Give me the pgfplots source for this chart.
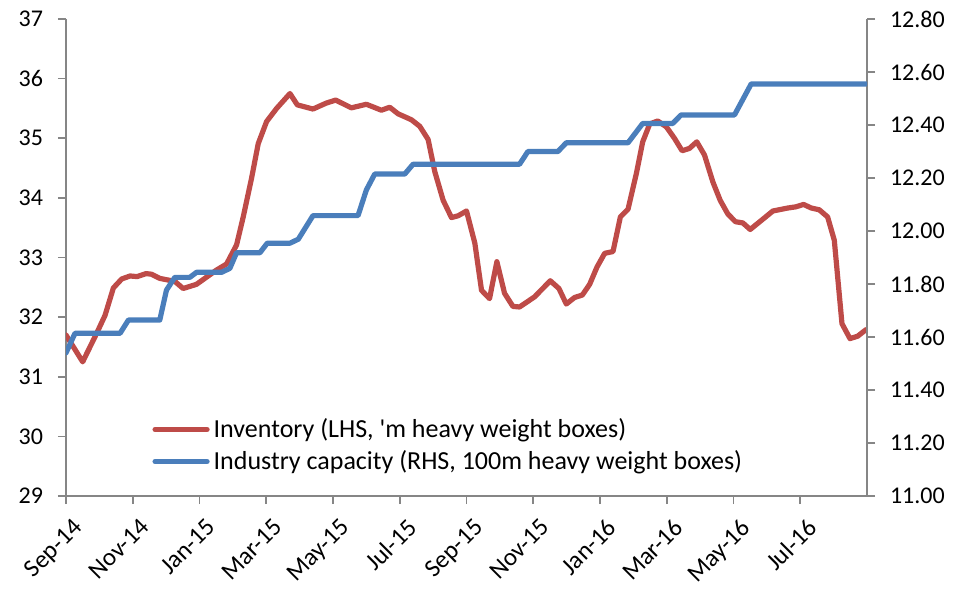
\documentclass[border=0pt]{standalone}
\usepackage{pgfplots}
\pgfplotsset{compat=1.18}
\usepackage{fontspec}
\setmainfont{Carlito}
\definecolor{invred}{HTML}{BE4B48}
\definecolor{capblue}{HTML}{4A7EBB}
\definecolor{axgray}{HTML}{868686}
\begin{document}
\begin{tikzpicture}
\path[use as bounding box] (-33bp,-48bp) rectangle (451bp,248bp);
\pgfplotsset{
  base/.style={
    scale only axis, width=400.5bp, height=238.5bp,
    at={(0,0)}, anchor=south west,
    xmin=0, xmax=24,
    axis line style={axgray, line width=0.8pt},
    tick style={axgray, line width=0.8pt},
    major tick length=4bp, tick align=outside,
    ticklabel style={font=\fontsize{12bp}{14bp}\selectfont, text=black},
    /pgf/number format/assume math mode=true,
  }
}
\begin{axis}[base,
  axis x line*=bottom, axis y line*=left,
  ymin=29, ymax=37, ytick={29,30,...,37},
  xtick={0,2,...,22},
  xticklabels={Sep-14,Nov-14,Jan-15,Mar-15,May-15,Jul-15,Sep-15,Nov-15,Jan-16,Mar-16,May-16,Jul-16},
  xticklabel style={anchor=north east, inner sep=1bp, xshift=3bp, yshift=-5bp, rotate=45,
    font=\fontsize{12.5bp}{14bp}\selectfont},
  yticklabel style={xshift=-4bp},
]
\addplot[invred, line width=2.6bp, line join=round, line cap=round] coordinates {
(0,31.70) (0.5,31.25) (0.92,31.73) (1.17,32.03) (1.42,32.49) (1.67,32.64) (1.92,32.69)
(2.13,32.68) (2.4,32.73) (2.56,32.72) (2.81,32.65) (3.26,32.60) (3.51,32.48) (3.91,32.55)
(4.21,32.67) (4.51,32.79) (4.81,32.89) (5.11,33.21) (5.31,33.68) (5.56,34.33) (5.76,34.91)
(6.01,35.28) (6.31,35.50) (6.71,35.75) (6.93,35.56) (7.40,35.49) (7.80,35.59) (8.08,35.64)
(8.55,35.51) (9.0,35.57) (9.45,35.47) (9.70,35.52) (9.95,35.41) (10.35,35.31) (10.60,35.20)
(10.85,34.98) (11.05,34.44) (11.30,33.96) (11.55,33.67) (11.75,33.70) (12.0,33.78)
(12.25,33.24) (12.45,32.45) (12.69,32.31) (12.91,32.93) (13.14,32.40) (13.39,32.18)
(13.59,32.17) (14.04,32.34) (14.51,32.61) (14.77,32.48) (14.99,32.22) (15.24,32.33)
(15.47,32.37) (15.69,32.55) (15.91,32.84) (16.14,33.07) (16.39,33.10) (16.61,33.68)
(16.84,33.81) (17.09,34.41) (17.28,34.94) (17.49,35.24) (17.73,35.29) (17.99,35.19)
(18.23,35.00) (18.46,34.79) (18.68,34.83) (18.90,34.94) (19.13,34.72) (19.38,34.27)
(19.60,33.96) (19.83,33.73) (20.06,33.60) (20.28,33.58) (20.50,33.47) (20.83,33.62)
(21.18,33.78) (21.63,33.83) (21.87,33.85) (22.10,33.89) (22.33,33.83) (22.57,33.80)
(22.82,33.68) (23.02,33.29) (23.12,32.68) (23.25,31.89) (23.49,31.64) (23.72,31.68)
(23.97,31.79)
};
\end{axis}
\begin{axis}[base,
  axis x line=none, axis y line*=right,
  ymin=11, ymax=12.8, ytick={11,11.2,...,12.81},
  yticklabel style={/pgf/number format/.cd, fixed, fixed zerofill, precision=2, /tikz/.cd, xshift=4bp},
  legend style={at={(0.1,0.18)}, anchor=north west, draw=none, fill=none,
    font=\fontsize{13bp}{15bp}\selectfont, row sep=1bp,
    /tikz/every even column/.append style={column sep=0bp}},
  legend cell align=left,
  legend image code/.code={\draw[#1, line cap=round] (0bp,0bp) -- (26bp,0bp);},
]
\addlegendimage{invred, line width=2.6bp}
\addlegendentry{Inventory (LHS, \textquotesingle m heavy weight boxes)}
\addplot[capblue, line width=2.6bp, line join=round, line cap=round] coordinates {
(0,11.54) (0.27,11.614) (1.62,11.614) (1.87,11.664) (2.81,11.664) (3.01,11.777)
(3.26,11.825) (3.71,11.825) (3.91,11.844) (4.66,11.844) (4.91,11.859) (5.11,11.918)
(5.81,11.918) (6.03,11.954) (6.71,11.954) (6.96,11.969) (7.40,12.058) (8.75,12.058)
(9.0,12.155) (9.25,12.215) (10.15,12.215) (10.40,12.252) (13.59,12.252) (13.84,12.30)
(14.74,12.30) (14.99,12.333) (16.84,12.333) (17.28,12.406) (18.18,12.406) (18.43,12.438)
(20.03,12.438) (20.53,12.555) (23.97,12.555)
};
\addlegendentry{Industry capacity (RHS, 100m heavy weight boxes)}
\end{axis}
\end{tikzpicture}
\end{document}
